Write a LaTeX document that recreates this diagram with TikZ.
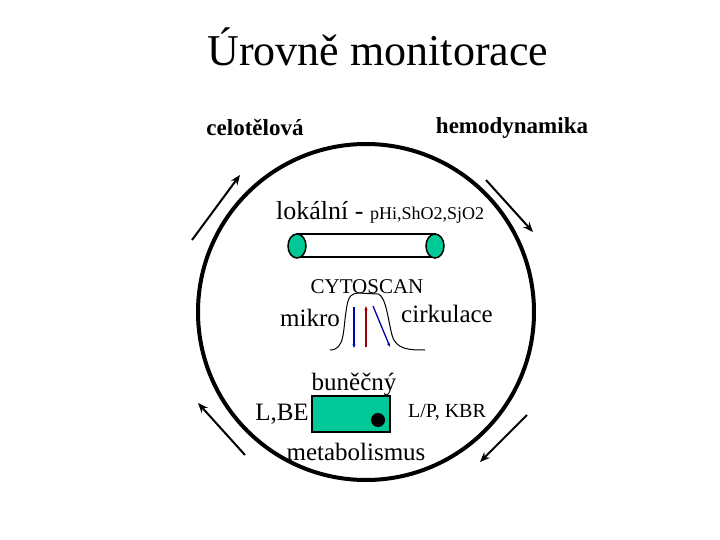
\documentclass[tikz,border=0pt]{standalone}
\usepackage{fontspec}
\setmainfont{Liberation Serif}
\usetikzlibrary{arrows.meta}
\definecolor{grn}{RGB}{0,200,150}
\begin{document}
\begin{tikzpicture}[x=1pt,y=-1pt,
  lbl/.style={inner sep=0pt,anchor=center},
  oarr/.style={-{Stealth[length=10pt,width=8pt]},line width=2pt},
  sarr/.style={-{Stealth[length=4pt,width=3pt]},line width=1.3pt}]
\useasboundingbox (0,0) rectangle (720,540);
\node[lbl] (title) at (378,47) {\fontsize{44}{46}\selectfont Úrovně monitorace};
\node[lbl] (celo) at (255,128) {\fontsize{23}{25}\selectfont\bfseries celotělová};
\node[lbl] (hemo) at (512,128) {\fontsize{23}{25}\selectfont\bfseries hemodynamika};
\draw[line width=4pt] (366,312) circle (168);
\coordinate (a1) at (192,240); \coordinate (a2) at (240,175);
\coordinate (b1) at (486,180); \coordinate (b2) at (533,232);
\coordinate (c1) at (527,415); \coordinate (c2) at (480,462);
\coordinate (d1) at (245,455); \coordinate (d2) at (198,403);
\draw[oarr] (a1) -- (a2); \draw[oarr] (b1) -- (b2);
\draw[oarr] (c1) -- (c2); \draw[oarr] (d1) -- (d2);
\node[lbl,anchor=base west] (lok) at (276,220) {\fontsize{26}{28}\selectfont lokální - {\fontsize{18}{20}\selectfont pHi,ShO2,SjO2}};
\draw[line width=1.8pt,fill=white] (297,234) rectangle (435,257);
\draw[line width=1.5pt,fill=grn] (297,246) ellipse (9 and 12);
\draw[line width=1.5pt,fill=grn] (435,246) ellipse (9 and 12);
\node[lbl] (cyto) at (367,287) {\fontsize{21}{23}\selectfont CYTOSCAN};
\node[lbl] (mikro) at (310,318) {\fontsize{25}{27}\selectfont mikro};
\node[lbl] (cirk) at (447,314) {\fontsize{25}{27}\selectfont cirkulace};
\draw[line width=1pt] (330,350) .. controls (345,350) and (343,330) .. (346,312)
  .. controls (348,294) and (352,294) .. (358,293) -- (378,294)
  .. controls (386,296) and (388,320) .. (392,335) .. controls (396,350) and (410,350) .. (425,350);
\coordinate (p1) at (354,307); \coordinate (p2) at (354,348);
\coordinate (q1) at (366,347); \coordinate (q2) at (366,306);
\coordinate (r1) at (373,306); \coordinate (r2) at (390,347);
\draw[sarr,blue!70!black] (p1) -- (p2);
\draw[sarr,red!60!black] (q1) -- (q2);
\draw[sarr,blue!70!black] (r1) -- (r2);
\node[lbl] (bun) at (354,384) {\fontsize{25}{27}\selectfont buněčný};
\draw[line width=1.3pt,fill=grn] (312,396) rectangle (390,432);
\fill (378,420) circle (7);
\node[lbl] (lbe) at (282,414) {\fontsize{25}{27}\selectfont L,BE};
\node[lbl] (lp) at (447,412) {\fontsize{20}{22}\selectfont L/P, KBR};
\node[lbl] (meta) at (356,452) {\fontsize{25}{27}\selectfont metabolismus};
\end{tikzpicture}
\end{document}
